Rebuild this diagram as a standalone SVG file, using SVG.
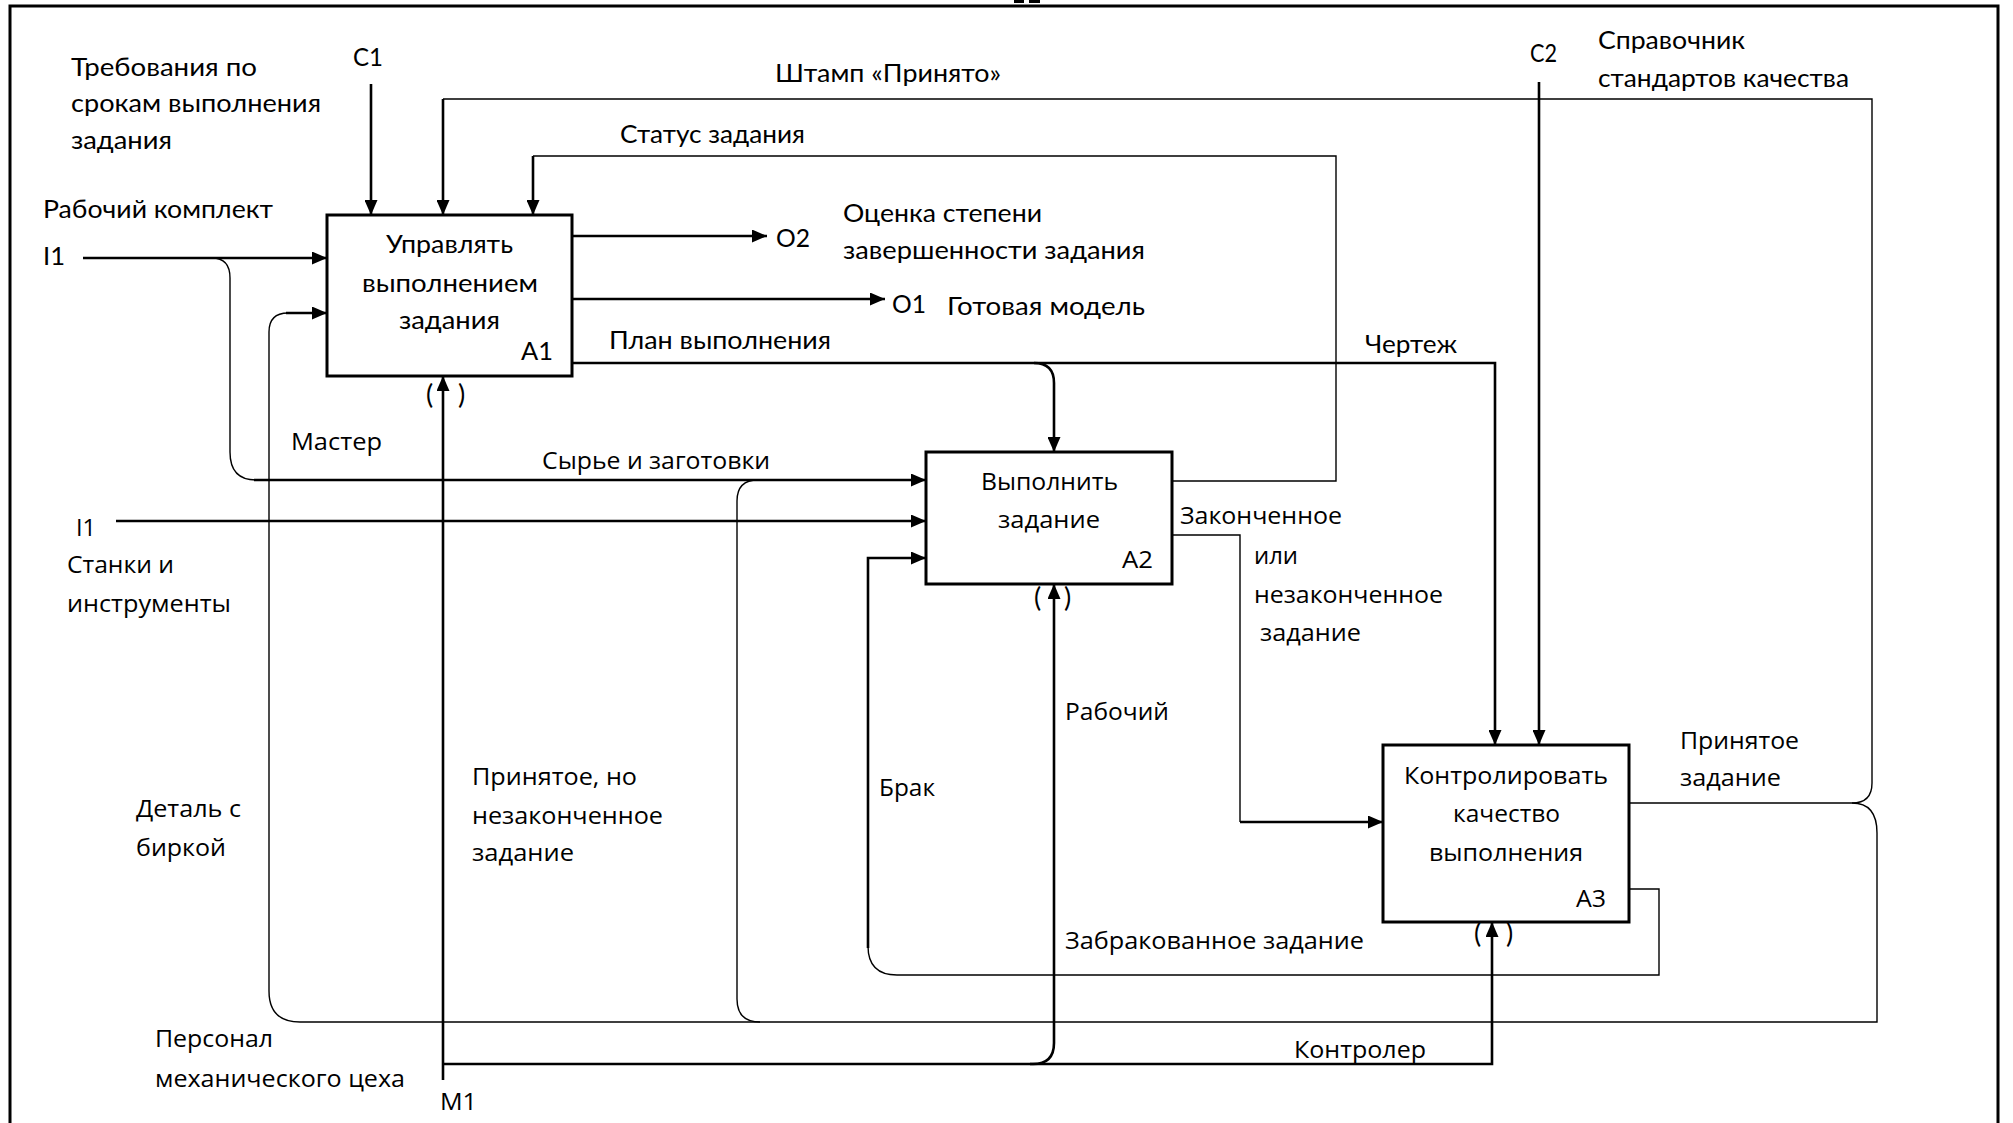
<svg xmlns="http://www.w3.org/2000/svg" width="2013" height="1123" viewBox="0 0 2013 1123">
<style>
.t1{font-family:Lato,"Liberation Sans",sans-serif;font-size:25px;fill:#000}
.t2{font-family:"Open Sans","DejaVu Sans",sans-serif;font-size:24px;fill:#000}
.p{font-family:Lato,"Liberation Sans",sans-serif;font-size:27px;fill:#000}
.box{fill:#fff;stroke:#000;stroke-width:3}
.thick{fill:none;stroke:#000;stroke-width:2.6}
.thin{fill:none;stroke:#000;stroke-width:1.4}
.arr{marker-end:url(#ah)}
</style>
<defs>
<marker id="ah" markerUnits="userSpaceOnUse" viewBox="0 0 15 13" refX="15" refY="6.5" markerWidth="15" markerHeight="13" orient="auto">
<path d="M0,0 L15,6.5 L0,13 z" fill="#000"/>
</marker>
</defs>
<rect width="2013" height="1123" fill="#fff"/>
<g id="frame">
<path d="M10,1123 V6 H1998 V1123" fill="none" stroke="#000" stroke-width="3"/>
<rect x="1014" y="0" width="10" height="3" fill="#000"/>
<rect x="1029" y="0" width="11" height="3" fill="#000"/>
</g>
<g id="connectors">
<path class="thick arr" d="M83,258 H327"/>
<path class="thin" d="M212,258 Q230,258 230,278 V452 Q230,480 256,480"/>
<path class="thick arr" d="M254,480 H926"/>
<path class="thick arr" d="M116,521 H926"/>
<path class="thick arr" d="M371,84 V215"/>
<path class="thin" d="M1172,481 H1336 V156 H533"/>
<path class="thick arr" d="M533,156 V215"/>
<path class="thin" d="M1629,803 H1852 Q1872,803 1872,783 V99 H443"/>
<path class="thick arr" d="M443,99 V215"/>
<path class="thin" d="M1852,803 Q1877,803 1877,833 V1022 H300 Q269,1022 269,991 V332 Q269,313 288,313"/>
<path class="thick arr" d="M286,313 H327"/>
<path class="thin" d="M760,1022 Q737,1022 737,999 V501 Q737,480 758,480"/>
<path class="thick arr" d="M572,236 H767"/>
<path class="thick arr" d="M572,299 H885"/>
<path class="thick arr" d="M572,363 H1495 V745"/>
<path class="thick arr" d="M1034,363 Q1054,363 1054,383 V452"/>
<path class="thin" d="M1172,535 H1240 V822"/>
<path class="thick arr" d="M1240,822 H1383"/>
<path class="thin" d="M1629,889 H1659 V975 H897 Q868,975 868,946"/>
<path class="thick arr" d="M868,948 V558 H926"/>
<path class="thick arr" d="M1539,82 V745"/>
<path class="thick arr" d="M443,1080 V376"/>
<path class="thick arr" d="M443,1064 H1033 Q1054,1064 1054,1043 V584"/>
<path class="thick arr" d="M1030,1064 H1492 V922"/>
</g>
<g id="A1">
<rect class="box" x="327" y="215" width="245" height="161"/>
<text class="t1" x="386" y="253" textLength="127" lengthAdjust="spacingAndGlyphs">Управлять</text>
<text class="t1" x="362" y="292" textLength="176" lengthAdjust="spacingAndGlyphs">выполнением</text>
<text class="t1" x="399" y="329" textLength="101" lengthAdjust="spacingAndGlyphs">задания</text>
<text class="t1" x="521" y="360" textLength="32" lengthAdjust="spacingAndGlyphs">A1</text>
<text class="p" x="426" y="404">(</text>
<text class="p" x="458" y="404">)</text>
</g>
<g id="A2">
<rect class="box" x="926" y="452" width="246" height="132"/>
<text class="t2" x="981" y="490" textLength="137" lengthAdjust="spacingAndGlyphs">Выполнить</text>
<text class="t2" x="998" y="528" textLength="102" lengthAdjust="spacingAndGlyphs">задание</text>
<text class="t2" x="1122" y="568" textLength="31" lengthAdjust="spacingAndGlyphs">A2</text>
<text class="p" x="1034" y="607">(</text>
<text class="p" x="1064" y="607">)</text>
</g>
<g id="A3">
<rect class="box" x="1383" y="745" width="246" height="177"/>
<text class="t2" x="1404" y="784" textLength="204" lengthAdjust="spacingAndGlyphs">Контролировать</text>
<text class="t2" x="1453" y="822" textLength="107" lengthAdjust="spacingAndGlyphs">качество</text>
<text class="t2" x="1429" y="861" textLength="154" lengthAdjust="spacingAndGlyphs">выполнения</text>
<text class="t2" x="1576" y="907" textLength="30" lengthAdjust="spacingAndGlyphs">A3</text>
<text class="p" x="1474" y="943">(</text>
<text class="p" x="1506" y="943">)</text>
</g>
<g id="labels">
<text class="t1" x="71" y="76" textLength="186" lengthAdjust="spacingAndGlyphs">Требования по</text>
<text class="t1" x="71" y="112" textLength="250" lengthAdjust="spacingAndGlyphs">срокам выполнения</text>
<text class="t1" x="71" y="149" textLength="101" lengthAdjust="spacingAndGlyphs">задания</text>
<text class="t1" x="353" y="66" textLength="30" lengthAdjust="spacingAndGlyphs">C1</text>
<text class="t1" x="43" y="218" textLength="230" lengthAdjust="spacingAndGlyphs">Рабочий комплект</text>
<text class="t1" x="43" y="265" textLength="22" lengthAdjust="spacingAndGlyphs">I1</text>
<text class="t1" x="775" y="82" textLength="226" lengthAdjust="spacingAndGlyphs">Штамп «Принято»</text>
<text class="t1" x="620" y="143" textLength="185" lengthAdjust="spacingAndGlyphs">Статус задания</text>
<text class="t1" x="776" y="247" textLength="34" lengthAdjust="spacingAndGlyphs">O2</text>
<text class="t1" x="843" y="222" textLength="199" lengthAdjust="spacingAndGlyphs">Оценка степени</text>
<text class="t1" x="843" y="259" textLength="302" lengthAdjust="spacingAndGlyphs">завершенности задания</text>
<text class="t1" x="892" y="313" textLength="34" lengthAdjust="spacingAndGlyphs">O1</text>
<text class="t1" x="947" y="315" textLength="198" lengthAdjust="spacingAndGlyphs">Готовая модель</text>
<text class="t1" x="609" y="349" textLength="222" lengthAdjust="spacingAndGlyphs">План выполнения</text>
<text class="t1" x="1365" y="353" textLength="92" lengthAdjust="spacingAndGlyphs">Чертеж</text>
<text class="t1" x="1530" y="62" textLength="27" lengthAdjust="spacingAndGlyphs">C2</text>
<text class="t1" x="1598" y="49" textLength="147" lengthAdjust="spacingAndGlyphs">Справочник</text>
<text class="t1" x="1598" y="87" textLength="251" lengthAdjust="spacingAndGlyphs">стандартов качества</text>
<text class="t2" x="291" y="450" textLength="91" lengthAdjust="spacingAndGlyphs">Мастер</text>
<text class="t2" x="542" y="469" textLength="228" lengthAdjust="spacingAndGlyphs">Сырье и заготовки</text>
<text class="t2" x="76" y="536" textLength="20" lengthAdjust="spacingAndGlyphs">I1</text>
<text class="t2" x="67" y="573" textLength="107" lengthAdjust="spacingAndGlyphs">Станки и</text>
<text class="t2" x="67" y="612" textLength="164" lengthAdjust="spacingAndGlyphs">инструменты</text>
<text class="t2" x="136" y="817" textLength="105" lengthAdjust="spacingAndGlyphs">Деталь с</text>
<text class="t2" x="136" y="856" textLength="90" lengthAdjust="spacingAndGlyphs">биркой</text>
<text class="t2" x="472" y="785" textLength="165" lengthAdjust="spacingAndGlyphs">Принятое, но</text>
<text class="t2" x="472" y="824" textLength="191" lengthAdjust="spacingAndGlyphs">незаконченное</text>
<text class="t2" x="472" y="861" textLength="102" lengthAdjust="spacingAndGlyphs">задание</text>
<text class="t2" x="155" y="1047" textLength="118" lengthAdjust="spacingAndGlyphs">Персонал</text>
<text class="t2" x="155" y="1087" textLength="250" lengthAdjust="spacingAndGlyphs">механического цеха</text>
<text class="t2" x="440" y="1110" textLength="37" lengthAdjust="spacingAndGlyphs">M1</text>
<text class="t2" x="1180" y="524" textLength="162" lengthAdjust="spacingAndGlyphs">Законченное</text>
<text class="t2" x="1254" y="564" textLength="44" lengthAdjust="spacingAndGlyphs">или</text>
<text class="t2" x="1254" y="603" textLength="189" lengthAdjust="spacingAndGlyphs">незаконченное</text>
<text class="t2" x="1260" y="641" textLength="101" lengthAdjust="spacingAndGlyphs">задание</text>
<text class="t2" x="1065" y="720" textLength="104" lengthAdjust="spacingAndGlyphs">Рабочий</text>
<text class="t2" x="879" y="796" textLength="56" lengthAdjust="spacingAndGlyphs">Брак</text>
<text class="t2" x="1065" y="949" textLength="299" lengthAdjust="spacingAndGlyphs">Забракованное задание</text>
<text class="t2" x="1294" y="1058" textLength="132" lengthAdjust="spacingAndGlyphs">Контролер</text>
<text class="t2" x="1680" y="749" textLength="119" lengthAdjust="spacingAndGlyphs">Принятое</text>
<text class="t2" x="1680" y="786" textLength="101" lengthAdjust="spacingAndGlyphs">задание</text>
</g>
</svg>
